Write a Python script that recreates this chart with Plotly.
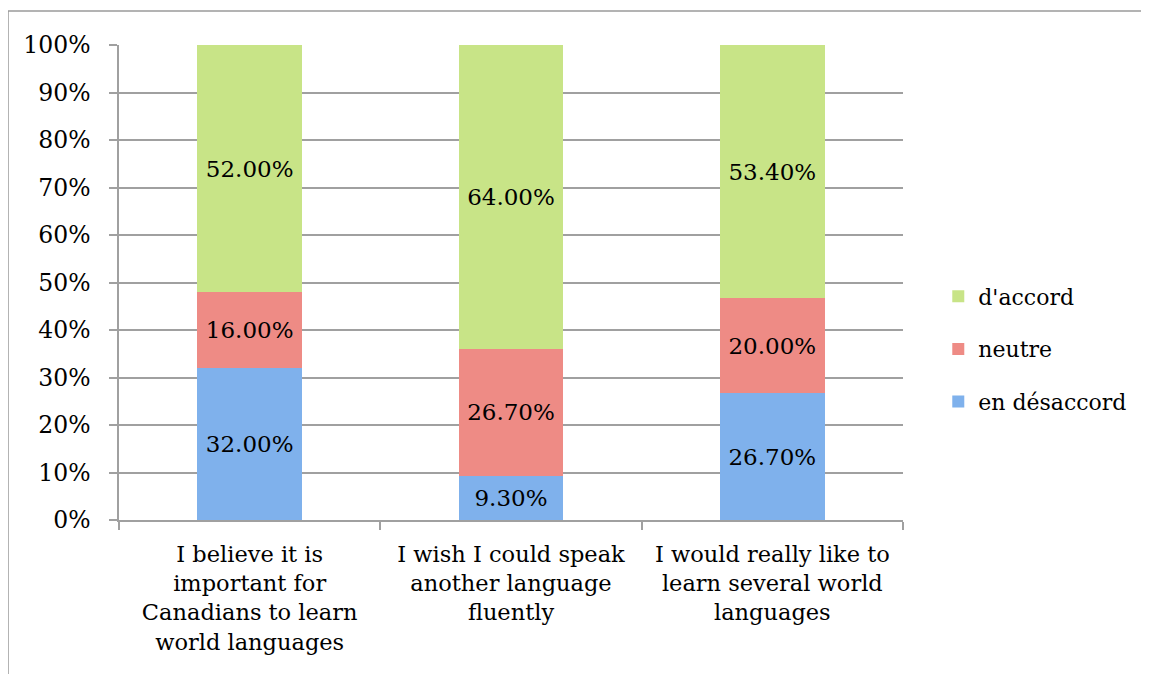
import plotly.graph_objects as go

categories = [
    "I believe it is<br>important for<br>Canadians to learn<br>world languages",
    "I wish I could speak<br>another language<br>fluently",
    "I would really like to<br>learn several world<br>languages",
]
series_names = ["en désaccord", "neutre", "d'accord"]
desaccord = [32.00, 9.30, 26.70]
neutre = [16.00, 26.70, 20.00]
accord = [52.00, 64.00, 53.40]
y_ticks = [0, 10, 20, 30, 40, 50, 60, 70, 80, 90, 100]

colors = ["#7fb1ec", "#ee8b85", "#c8e487"]
legend_ranks = [3, 2, 1]
FONT = "DejaVu Serif"

fig = go.Figure()
for name, vals, col, rk in zip(series_names, [desaccord, neutre, accord], colors, legend_ranks):
    fig.add_trace(go.Bar(
        x=categories, y=vals, name=name,
        marker=dict(color=col, line=dict(width=0)),
        text=[f"{v:.2f}%" for v in vals],
        textposition="inside", insidetextanchor="middle",
        constraintext="none",
        textfont=dict(family=FONT, size=23, color="#000000"),
        legendgroup=name, legendrank=rk,
    ))

W, H = 1141, 666
L, T, R, B = 111, 37, 246, 154
pw, ph = W - L - R, H - T - B

fig.update_layout(
    width=W, height=H,
    barmode="stack", barnorm="percent", bargap=0.6,
    plot_bgcolor="white", paper_bgcolor="white",
    margin=dict(l=L, r=R, t=T, b=B, autoexpand=False),
    font=dict(family=FONT, size=22, color="#000000"),
    legend=dict(
        traceorder="grouped", tracegroupgap=21,
        x=1.045, xanchor="left", y=0.36, yanchor="middle",
        font=dict(family=FONT, size=22), itemwidth=30,
    ),
    shapes=[dict(type="rect", xref="paper", yref="paper",
                 x0=(0 - L) / pw, x1=1.6, y0=-0.6, y1=(ph + T - 3) / ph,
                 line=dict(color="#9a9a9a", width=1.5), fillcolor="rgba(0,0,0,0)",
                 layer="below")],
)
fig.update_yaxes(
    range=[0, 100], tickvals=y_ticks, ticktext=[f"{t}%" for t in y_ticks],
    showgrid=True, gridcolor="#a0a0a0", gridwidth=1.5,
    showline=True, linecolor="#a0a0a0", linewidth=1.5,
    ticks="outside", ticklen=8, tickcolor="#a0a0a0", tickwidth=1.5,
    ticklabelstandoff=14, zeroline=False,
    tickfont=dict(family=FONT, size=23.5),
)
fig.update_xaxes(
    showline=True, linecolor="#a0a0a0", linewidth=1.5,
    ticks="outside", ticklen=8, tickcolor="#a0a0a0", tickwidth=1.5,
    tickson="boundaries", showgrid=False, ticklabelstandoff=13,
    tickfont=dict(family=FONT, size=22.5),
)

fig.write_html("out.html")
